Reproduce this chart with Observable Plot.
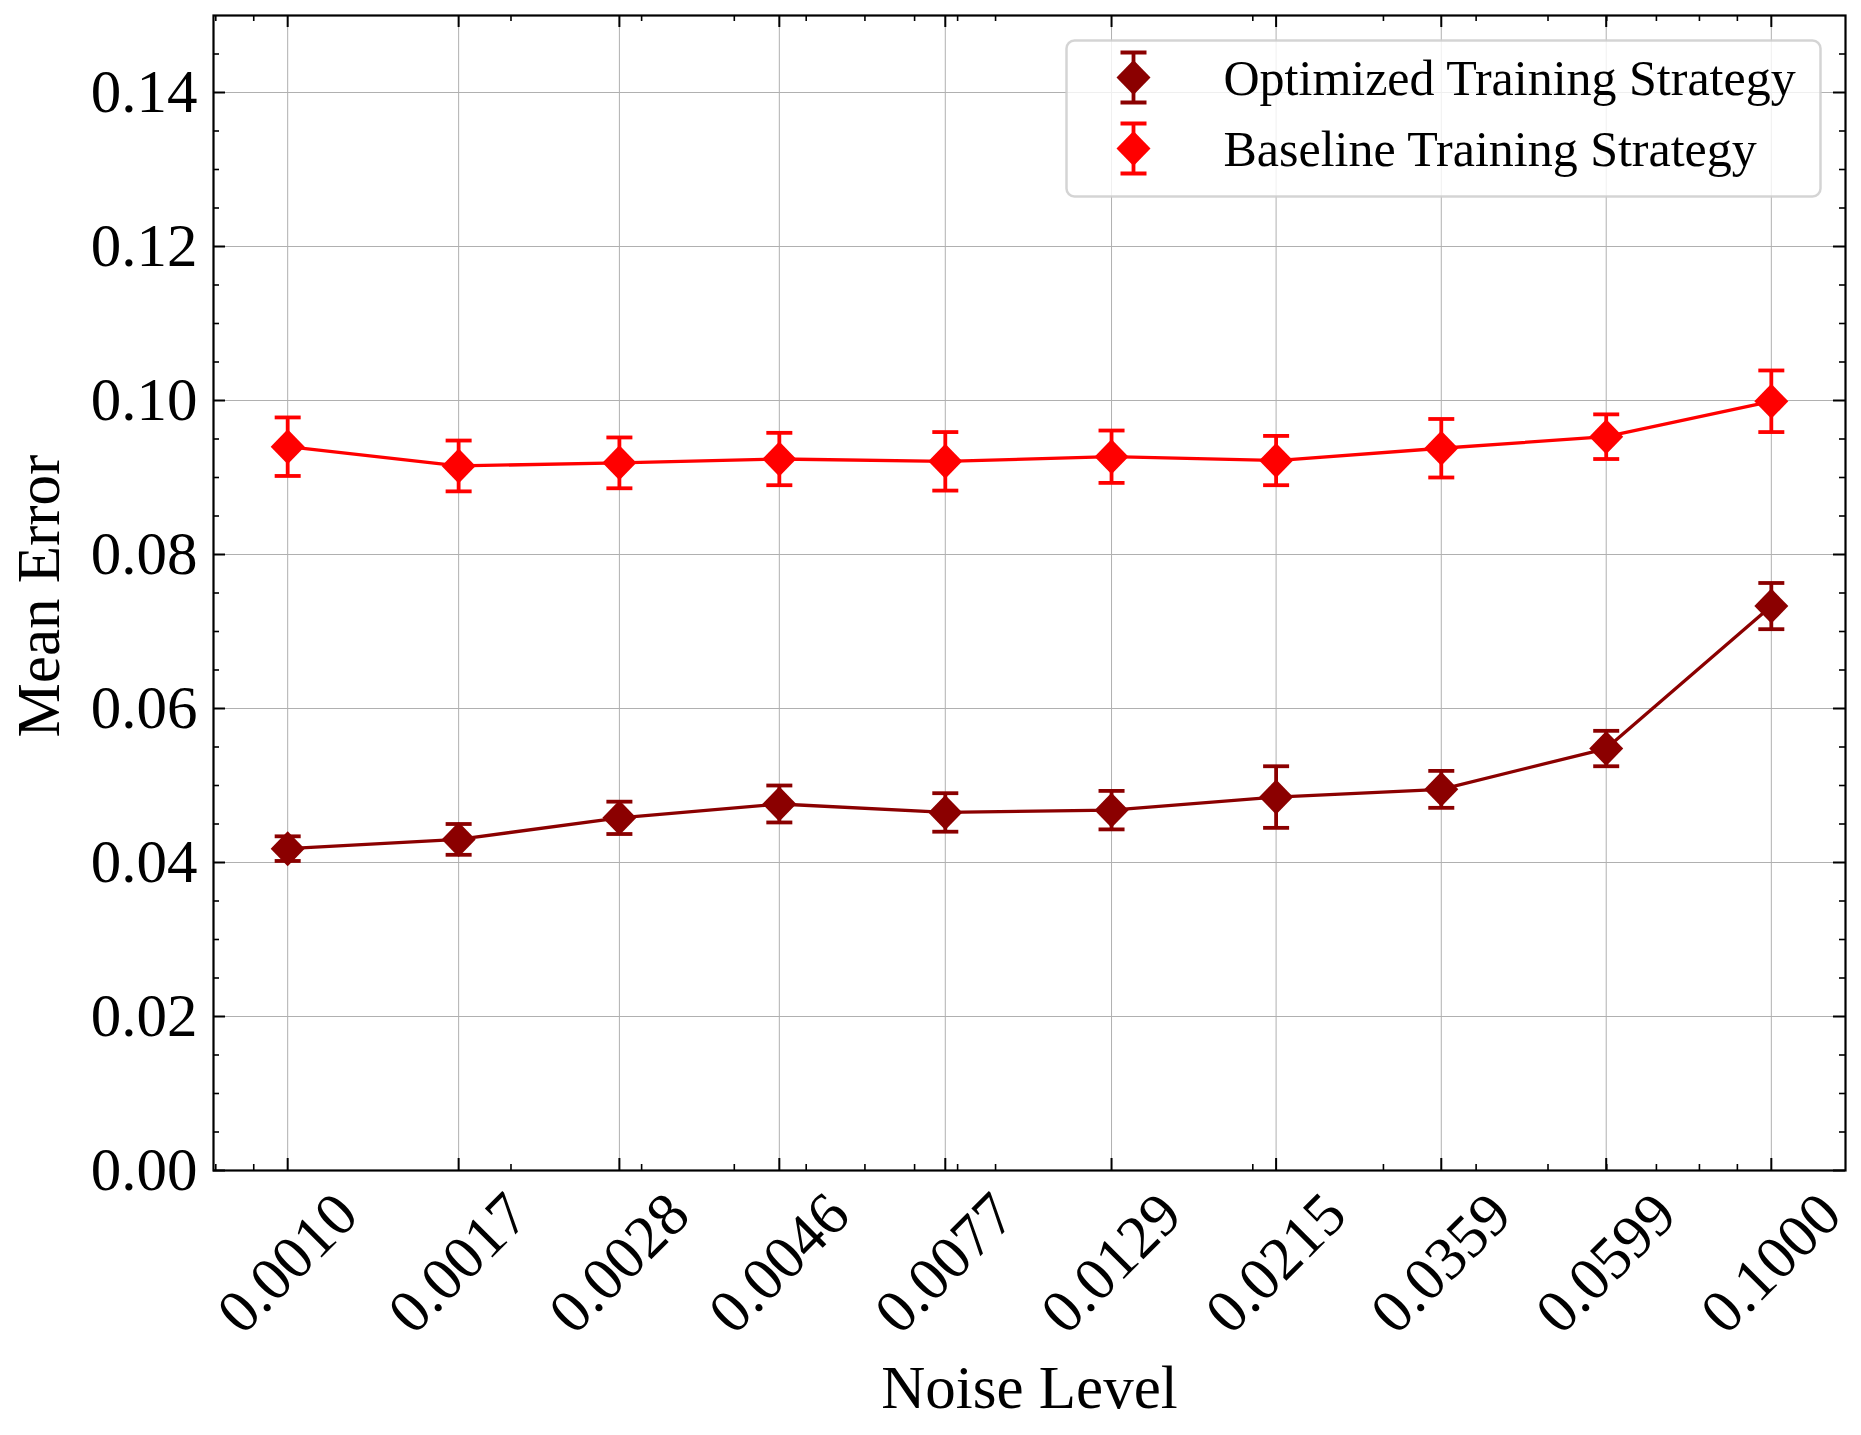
<!DOCTYPE html>
<html>
<head>
<meta charset="utf-8">
<script src="https://cdn.jsdelivr.net/npm/d3@7"></script>
<script src="https://cdn.jsdelivr.net/npm/@observablehq/plot@0.6"></script>
<style>
  html, body { margin: 0; padding: 0; background: #ffffff; }
  #chart svg { display: block; }
</style>
</head>
<body>
<div id="chart"></div>
<script>
// ---- data ----
const noiseLevels   = [0.0010, 0.0017, 0.0028, 0.0046, 0.0077, 0.0129, 0.0215, 0.0359, 0.0599, 0.1000];
const optimizedMean = [0.0418, 0.0430, 0.0458, 0.0476, 0.0465, 0.0468, 0.0485, 0.0495, 0.0548, 0.0733];
const optimizedErr  = [0.0016, 0.0020, 0.0021, 0.0024, 0.0025, 0.0025, 0.0040, 0.0024, 0.0023, 0.0030];
const baselineMean  = [0.0940, 0.0915, 0.0919, 0.0924, 0.0921, 0.0927, 0.0922, 0.0938, 0.0953, 0.0999];
const baselineErr   = [0.0038, 0.0033, 0.0033, 0.0034, 0.0038, 0.0034, 0.0032, 0.0038, 0.0029, 0.0040];
const seriesNames   = ["Optimized Training Strategy", "Baseline Training Strategy"];
const seriesColors  = ["#8b0000", "#ff0000"];
const xTickLabels   = ["0.0010", "0.0017", "0.0028", "0.0046", "0.0077", "0.0129", "0.0215", "0.0359", "0.0599", "0.1000"];
const yTickValues   = [0.00, 0.02, 0.04, 0.06, 0.08, 0.10, 0.12, 0.14];
const xMinorTicks   = [0.0008, 0.0009, 0.002, 0.003, 0.004, 0.005, 0.006, 0.007, 0.008, 0.009,
                       0.02, 0.03, 0.04, 0.05, 0.06, 0.07, 0.08, 0.09];
const yMinorTicks   = [0.005, 0.010, 0.015, 0.025, 0.030, 0.035, 0.045, 0.050, 0.055, 0.065, 0.070, 0.075,
                       0.085, 0.090, 0.095, 0.105, 0.110, 0.115, 0.125, 0.130, 0.135, 0.145];
const xLabel = "Noise Level";
const yLabel = "Mean Error";

// ---- layout ----
const W = 1861, H = 1435;
const mL = 213, mR = 16, mT = 15, mB = 265;
const fW = W - mL - mR, fH = H - mT - mB;
const FONT = "'Liberation Serif', 'Times New Roman', Times, serif";

const rows = [];
const means = [optimizedMean, baselineMean];
const errs = [optimizedErr, baselineErr];
seriesNames.forEach((name, s) => {
  noiseLevels.forEach((x, i) => {
    rows.push({series: name, color: seriesColors[s], x, y: means[s][i], lo: means[s][i] - errs[s][i], hi: means[s][i] + errs[s][i]});
  });
});
const xTickRows = noiseLevels.map((v, i) => ({v, label: xTickLabels[i]}));

// custom symbols
const capSymbol = {draw(ctx) { ctx.moveTo(-13, 0); ctx.lineTo(13, 0); }};
const diamondSymbol = {draw(ctx) { ctx.moveTo(0, -17.5); ctx.lineTo(17, 0); ctx.lineTo(0, 17.5); ctx.lineTo(-17, 0); ctx.closePath(); }};
const legendBarSymbol = {draw(ctx) {
  ctx.moveTo(0, -25); ctx.lineTo(0, 25);
  ctx.moveTo(-13, -25); ctx.lineTo(13, -25);
  ctx.moveTo(-13, 25); ctx.lineTo(13, 25);
}};

const marks = [
  Plot.gridX(noiseLevels, {stroke: "#b0b0b0", strokeOpacity: 1, strokeWidth: 1}),
  Plot.gridY(yTickValues, {stroke: "#b0b0b0", strokeOpacity: 1, strokeWidth: 1}),
];

seriesNames.forEach((name, s) => {
  const data = rows.filter(d => d.series === name);
  const c = seriesColors[s];
  marks.push(
    Plot.line(data, {x: "x", y: "y", stroke: c, strokeWidth: 3.3}),
    Plot.ruleX(data, {x: "x", y1: "lo", y2: "hi", stroke: c, strokeWidth: 3.8}),
    Plot.dot(data, {x: "x", y: "hi", symbol: capSymbol, r: 1, fill: "none", stroke: c, strokeWidth: 3.8}),
    Plot.dot(data, {x: "x", y: "lo", symbol: capSymbol, r: 1, fill: "none", stroke: c, strokeWidth: 3.8}),
    Plot.dot(data, {x: "x", y: "y", symbol: diamondSymbol, r: 1, fill: c, stroke: "none"})
  );
});

// inward ticks on all four sides
marks.push(
  Plot.ruleX(noiseLevels, {insetTop: fH - 12, stroke: "black", strokeWidth: 2}),
  Plot.ruleX(noiseLevels, {insetBottom: fH - 12, stroke: "black", strokeWidth: 2}),
  Plot.ruleX(xMinorTicks, {insetTop: fH - 6, stroke: "black", strokeWidth: 1.6}),
  Plot.ruleX(xMinorTicks, {insetBottom: fH - 6, stroke: "black", strokeWidth: 1.6}),
  Plot.ruleY(yTickValues, {insetRight: fW - 12, stroke: "black", strokeWidth: 2}),
  Plot.ruleY(yTickValues, {insetLeft: fW - 12, stroke: "black", strokeWidth: 2}),
  Plot.ruleY(yMinorTicks, {insetRight: fW - 6, stroke: "black", strokeWidth: 1.6}),
  Plot.ruleY(yMinorTicks, {insetLeft: fW - 6, stroke: "black", strokeWidth: 1.6}),
  Plot.frame({stroke: "black", strokeWidth: 2.2}),
  // y tick labels
  Plot.axisY({ticks: yTickValues, tickSize: 0, tickPadding: 16, tickFormat: d3.format(".2f"), fontSize: 61, label: null}),
  // x tick labels, rotated 45 degrees, centred under the ticks
  Plot.text(xTickRows, {x: "v", text: "label", frameAnchor: "bottom", dy: 93, rotate: -45,
    textAnchor: "middle", lineAnchor: "middle", fontSize: 61, fill: "black"}),
  // axis titles
  Plot.text([xLabel], {text: d => d, frameAnchor: "bottom", dy: 237, textAnchor: "middle", lineAnchor: "bottom", fontSize: 61, fill: "black"}),
  Plot.text([yLabel], {text: d => d, frameAnchor: "left", dx: -174, dy: 3, rotate: -90, textAnchor: "middle", lineAnchor: "middle", fontSize: 61, fill: "black"}),
  // legend box
  Plot.frame({insetLeft: 1066 - mL, insetTop: 40 - mT, insetRight: mL + fW - 1820, insetBottom: mT + fH - 196,
    rx: 8, ry: 8, fill: "white", fillOpacity: 0.8, stroke: "#cccccc", strokeOpacity: 0.85, strokeWidth: 2.5})
);

// legend entries
const legendDy = [62, 133];
seriesNames.forEach((name, s) => {
  const c = seriesColors[s];
  marks.push(
    Plot.dot([name], {frameAnchor: "top-left", dx: 1133 - mL, dy: legendDy[s], symbol: legendBarSymbol, r: 1, fill: "none", stroke: c, strokeWidth: 3.8}),
    Plot.dot([name], {frameAnchor: "top-left", dx: 1133 - mL, dy: legendDy[s], symbol: diamondSymbol, r: 1, fill: c, stroke: "none"}),
    Plot.text([name], {frameAnchor: "top-left", dx: 1223 - mL, dy: legendDy[s] + 1, text: d => d, textAnchor: "start", lineAnchor: "middle", fontSize: 50, fill: "black"})
  );
});

const chart = Plot.plot({
  width: W, height: H,
  marginLeft: mL, marginRight: mR, marginTop: mT, marginBottom: mB,
  style: {fontFamily: FONT, fontSize: "61px", background: "white", color: "black", overflow: "visible"},
  x: {type: "log", domain: [Math.pow(10, -3.1), Math.pow(10, -0.9)], axis: null},
  y: {type: "linear", domain: [0, 0.15]},
  marks
});
document.getElementById("chart").appendChild(chart);
</script>
</body>
</html>
